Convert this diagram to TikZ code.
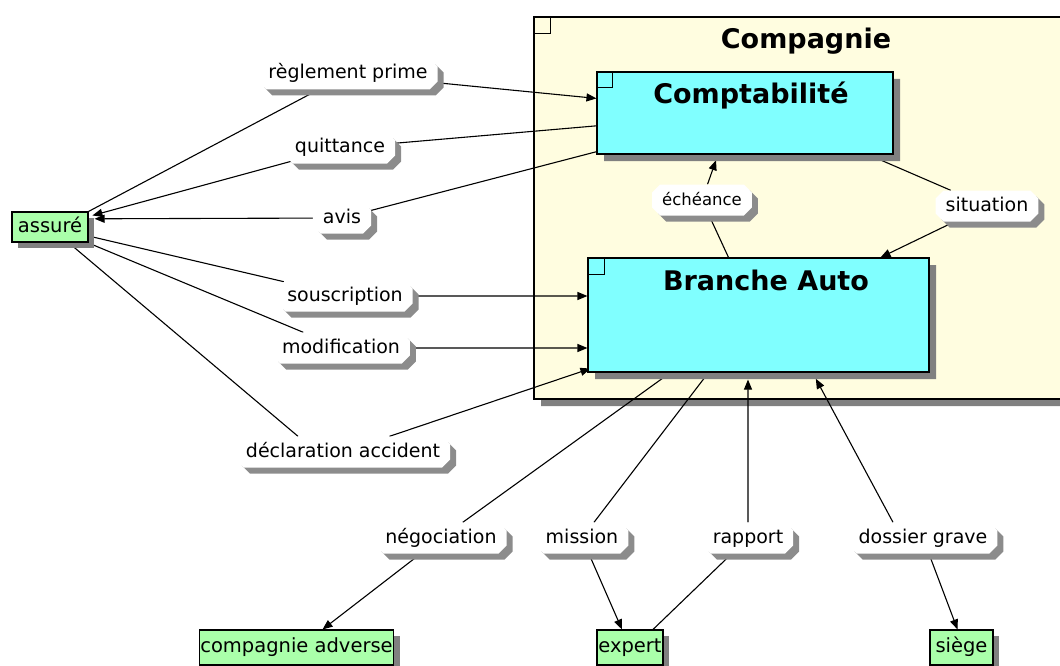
\documentclass[tikz,border=0pt]{standalone}
\usepackage{fontspec}
\setmainfont{DejaVu Sans}
\usetikzlibrary{shapes.misc,shadows,arrows.meta,calc}
\pgfdeclarelayer{back}
\pgfdeclarelayer{edges}
\pgfsetlayers{back,edges,main}
\definecolor{boxyellow}{RGB}{255,253,224}
\definecolor{boxcyan}{RGB}{128,255,255}
\definecolor{boxgreen}{RGB}{170,255,170}
\definecolor{shadowgray}{RGB}{128,128,128}
\definecolor{lblshadow}{RGB}{140,140,140}

\begin{document}
\begin{tikzpicture}[x=1pt,y=-1pt,
  flow/.style={line width=1.1pt, draw=black},
  arr/.style={flow, -{Triangle[length=10pt,width=8pt]}},
  unitbox/.style={chamfered rectangle, chamfered rectangle xsep=5pt,
    chamfered rectangle ysep=5pt, draw=black, line width=1.1pt,
    fill=boxcyan, inner sep=0pt,
    drop shadow={shadow xshift=7pt, shadow yshift=-7pt, fill=shadowgray, opacity=1}},
  unittitle/.style={font=\bfseries\fontsize{27}{30}\selectfont, inner sep=0pt},
  actor/.style={rectangle, draw=black, line width=1.1pt, fill=boxgreen,
    inner sep=1pt, font=\fontsize{19.5}{22}\selectfont,
    text height=14pt, text depth=4pt, minimum height=35pt,
    drop shadow={shadow xshift=6pt, shadow yshift=-6pt, fill=shadowgray, opacity=1}},
  flowlabel/.style={chamfered rectangle, chamfered rectangle xsep=4pt,
    chamfered rectangle ysep=4pt, inner xsep=6pt, inner ysep=0pt,
    minimum height=31pt, fill=white, font=\fontsize{19}{22}\selectfont,
    text height=14pt, text depth=4pt,
    drop shadow={shadow xshift=6pt, shadow yshift=-6pt, fill=lblshadow, opacity=1}},
  dogear/.style={line width=0.9pt}
]
\useasboundingbox (0,0) rectangle (1060,666);

% the company domain
\begin{pgfonlayer}{back}
  \node[unitbox, fill=boxyellow, minimum width=560pt, minimum height=382pt]
    (compagnie) at (814,208) {};
  \coordinate (cnw) at (compagnie.north -| compagnie.west);
  \draw[dogear] ($(cnw)+(0,17)$) -| ($(cnw)+(17,0)$);
\end{pgfonlayer}
\node[unittitle] (compagnie-t) at (806,41) {Compagnie};

% internal units
\node[unitbox, minimum width=296pt, minimum height=82pt] (compta) at (745,113) {};
\coordinate (comptanw) at (compta.north -| compta.west);
\draw[dogear] ($(comptanw)+(0,16)$) -| ($(comptanw)+(16,0)$);
\node[unittitle] (compta-t) at (751,96) {Comptabilité};

\node[unitbox, minimum width=341pt, minimum height=114pt] (branche) at (758.5,315) {};
\coordinate (branchenw) at (branche.north -| branche.west);
\coordinate (branchesw) at (branche.south -| branche.west);
\draw[dogear] ($(branchenw)+(0,17)$) -| ($(branchenw)+(17,0)$);
\node[unittitle] (branche-t) at (766,280) {Branche Auto};

% external actors
\node[actor, minimum width=76pt, minimum height=30pt] (assure) at (50,227) {assuré};
\node[actor, minimum width=193pt] (cadv) at (296.5,647.5) {compagnie adverse};
\node[actor, minimum width=66pt] (expert) at (630,647.5) {expert};
\node[actor, minimum width=63pt] (siege) at (961.5,647.5) {siège};

% flow labels
\node[flowlabel] (reg) at (348,74) {règlement prime};
\node[flowlabel] (quit) at (340,148) {quittance};
\node[flowlabel] (avis) at (342,218) {avis};
\node[flowlabel, font=\fontsize{16.5}{20}\selectfont] (echeance) at (702,200) {échéance};
\node[flowlabel] (situation) at (987,206) {situation};
\node[flowlabel] (souscr) at (345,296) {souscription};
\node[flowlabel] (modif) at (341,348) {modification};
\node[flowlabel] (decl) at (343,452) {déclaration accident};
\node[flowlabel] (nego) at (441,538) {négociation};
\node[flowlabel] (mission) at (582,538) {mission};
\node[flowlabel] (rapport) at (748,538) {rapport};
\node[flowlabel] (dossier) at (923,538) {dossier grave};

% connectors
\begin{pgfonlayer}{edges}
  \draw[flow] (assure.north east) -- (reg);
  \draw[arr] (reg) -- (compta);
  \draw[flow] (compta) -- (quit);
  \draw[arr, shorten >=4pt] (quit) -- (assure);
  \draw[flow] (compta) -- (avis);
  \draw[arr, shorten >=6pt] (avis) -- (assure.12);
  \draw[flow] ([xshift=-30pt]branche.north) -- (echeance);
  \draw[arr, shorten >=6pt] (echeance) -- ([xshift=-27pt]compta.south);
  \draw[flow] ([xshift=123pt]compta.south) -- (situation);
  \draw[arr] (situation) -- ([xshift=122pt]branche.north);
  \draw[flow] (assure) -- (souscr);
  \draw[arr] (souscr) -- (souscr -| branche.west);
  \draw[flow] (assure) -- (modif);
  \draw[arr] (modif) -- (modif -| branche.west);
  \draw[flow] (assure) -- ([xshift=-45pt]decl.north);
  \draw[arr] (decl) -- ($(branchesw)+(3,-4)$);
  \draw[flow] ([xshift=-88pt]branche.south) -- (nego);
  \draw[arr] (nego) -- ([xshift=26pt]cadv.north);
  \draw[flow] ([xshift=-50pt]branche.south) -- (mission);
  \draw[arr] (mission) -- ([xshift=-8pt]expert.north);
  \draw[flow] ([xshift=23pt]expert.north) -- (rapport);
  \draw[arr, shorten >=7pt] (rapport) -- (rapport |- branche.south);
  \draw[arr, shorten >=7pt] ([xshift=-30pt]dossier.north) -- ([xshift=54pt]branche.south);
  \draw[arr] (dossier) -- ([xshift=-4pt]siege.north);
\end{pgfonlayer}
\end{tikzpicture}
\end{document}
